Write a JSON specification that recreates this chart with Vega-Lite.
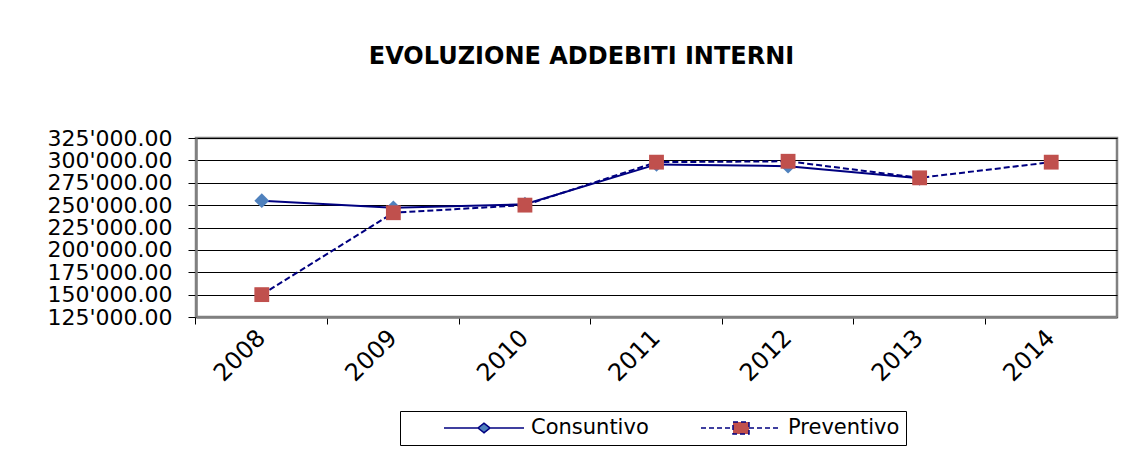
{
  "$schema": "https://vega.github.io/schema/vega-lite/v6.json",
  "autosize": "none",
  "width": 921,
  "height": 179,
  "padding": {"left": 196, "top": 138, "right": 10, "bottom": 139},
  "background": "white",
  "config": {
    "locale": {"number": {"decimal": ".", "thousands": "'", "grouping": [3], "currency": ["", ""]}},
    "view": {"stroke": "#808080", "strokeWidth": 2.5},
    "font": "DejaVu Sans",
    "legend": {
      "orient": "none",
      "legendX": 204,
      "legendY": 273,
      "direction": "horizontal",
      "strokeColor": "black",
      "padding": 6,
      "symbolOffset": 37,
      "symbolSize": 6400,
      "symbolOpacity": 1,
      "labelFontSize": 21,
      "labelFont": "DejaVu Sans",
      "labelColor": "black",
      "labelOffset": 6,
      "columnPadding": 14,
      "clipHeight": 22
    }
  },
  "title": {
    "text": "EVOLUZIONE ADDEBITI INTERNI",
    "fontSize": 24,
    "fontWeight": "bold",
    "font": "DejaVu Sans",
    "color": "black",
    "offset": 58,
    "dx": -75
  },
  "data": {
    "values": [
      {"serie": "Consuntivo", "anno": "2008", "valore": 255000},
      {"serie": "Consuntivo", "anno": "2009", "valore": 247000},
      {"serie": "Consuntivo", "anno": "2010", "valore": 251000},
      {"serie": "Consuntivo", "anno": "2011", "valore": 295500},
      {"serie": "Consuntivo", "anno": "2012", "valore": 293500},
      {"serie": "Consuntivo", "anno": "2013", "valore": 280000},
      {"serie": "Preventivo", "anno": "2008", "valore": 150000},
      {"serie": "Preventivo", "anno": "2009", "valore": 241500},
      {"serie": "Preventivo", "anno": "2010", "valore": 250000},
      {"serie": "Preventivo", "anno": "2011", "valore": 298000},
      {"serie": "Preventivo", "anno": "2012", "valore": 299000},
      {"serie": "Preventivo", "anno": "2013", "valore": 280500},
      {"serie": "Preventivo", "anno": "2014", "valore": 298000}
    ]
  },
  "encoding": {
    "x": {
      "field": "anno",
      "type": "ordinal",
      "scale": {"type": "band", "paddingInner": 0, "paddingOuter": 0},
      "axis": {
        "orient": "bottom",
        "title": null,
        "bandPosition": 0,
        "labelOffset": 0,
        "labelAngle": -45,
        "labelAlign": "right",
        "labelBaseline": "middle",
        "labelFontSize": 24,
        "labelFont": "DejaVu Sans",
        "labelColor": "black",
        "labelPadding": 10,
        "tickSize": 7,
        "tickColor": "black",
        "domainColor": "#808080",
        "domainWidth": 2.5,
        "grid": false
      }
    },
    "y": {
      "field": "valore",
      "type": "quantitative",
      "scale": {"domain": [125000, 325000], "nice": false, "zero": false},
      "axis": {
        "title": null,
        "values": [125000, 150000, 175000, 200000, 225000, 250000, 275000, 300000, 325000],
        "format": ",.2f",
        "labelFontSize": 22,
        "labelFont": "DejaVu Sans",
        "labelColor": "black",
        "labelOverlap": false,
        "labelPadding": 16,
        "tickSize": 8,
        "tickColor": "black",
        "gridColor": "black",
        "gridOpacity": 1,
        "gridWidth": 1,
        "domainColor": "#808080",
        "domainWidth": 2.5
      }
    }
  },
  "layer": [
    {
      "transform": [{"filter": "datum.serie === 'Consuntivo'"}],
      "mark": {"type": "line", "color": "#000080", "strokeWidth": 2},
      "encoding": {}
    },
    {
      "transform": [{"filter": "datum.serie === 'Preventivo'"}],
      "mark": {"type": "line", "color": "#000080", "strokeWidth": 2, "strokeDash": [6, 3]},
      "encoding": {}
    },
    {
      "transform": [{"filter": "datum.serie === 'Consuntivo'"}],
      "mark": {"type": "point", "filled": true, "opacity": 1, "shape": "diamond", "size": 220},
      "encoding": {
        "color": {
          "field": "serie",
          "type": "nominal",
          "scale": {"domain": ["Consuntivo", "Preventivo"], "range": ["#4F81BD", "#C0504D"]},
          "legend": {
            "title": null,
            "encode": {
              "symbols": {
                "update": {
                  "shape": {"signal": "datum.value === 'Consuntivo' ? 'M-1,0L-0.15,0M0.15,0L1,0M0,-0.12L0.15,0L0,0.12L-0.15,0Z' : 'M-1,0L-0.2,0M0.2,0L1,0M-0.2,-0.15L0.2,-0.15L0.2,0.15L-0.2,0.15Z'"},
                  "size": {"value": 6400},
                  "fill": {"signal": "datum.value === 'Consuntivo' ? '#4F81BD' : '#C0504D'"},
                  "stroke": {"value": "#000080"},
                  "strokeWidth": {"value": 1.5},
                  "strokeDash": {"signal": "datum.value === 'Consuntivo' ? [1,0] : [5,3]"},
                  "opacity": {"value": 1}
                }
              }
            }
          }
        }
      }
    },
    {
      "transform": [{"filter": "datum.serie === 'Preventivo'"}],
      "mark": {"type": "point", "filled": true, "opacity": 1, "shape": "square", "size": 220},
      "encoding": {
        "color": {
          "field": "serie",
          "type": "nominal",
          "scale": {"domain": ["Consuntivo", "Preventivo"], "range": ["#4F81BD", "#C0504D"]},
          "legend": {
            "title": null,
            "encode": {
              "symbols": {
                "update": {
                  "shape": {"signal": "datum.value === 'Consuntivo' ? 'M-1,0L-0.15,0M0.15,0L1,0M0,-0.12L0.15,0L0,0.12L-0.15,0Z' : 'M-1,0L-0.2,0M0.2,0L1,0M-0.2,-0.15L0.2,-0.15L0.2,0.15L-0.2,0.15Z'"},
                  "size": {"value": 6400},
                  "fill": {"signal": "datum.value === 'Consuntivo' ? '#4F81BD' : '#C0504D'"},
                  "stroke": {"value": "#000080"},
                  "strokeWidth": {"value": 1.5},
                  "strokeDash": {"signal": "datum.value === 'Consuntivo' ? [1,0] : [5,3]"},
                  "opacity": {"value": 1}
                }
              }
            }
          }
        }
      }
    }
  ]
}
